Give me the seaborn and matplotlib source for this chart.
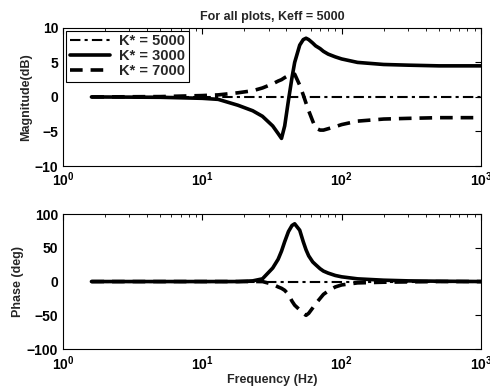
import matplotlib
matplotlib.use("Agg")
import matplotlib.pyplot as plt
import seaborn as sns
import numpy as np
import pandas as pd
from matplotlib.ticker import LogLocator, FixedLocator, NullFormatter

sns.set_theme(style="white")
plt.rcParams['font.family'] = ['Liberation Sans', 'DejaVu Sans']
plt.rcParams['mathtext.fontset'] = 'custom'
plt.rcParams['mathtext.rm'] = 'Liberation Sans:bold'
plt.rcParams['mathtext.it'] = 'Liberation Sans:bold'
plt.rcParams['mathtext.bf'] = 'Liberation Sans:bold'

freq = [1.6, 5, 10, 13, 18, 23, 27, 32, 35, 37, 39, 41.5, 44, 46, 50, 53, 55.5, 58, 62, 65, 70, 74, 80, 90, 100, 130, 200, 300, 500, 1000]

mag_5000 = [0]*len(freq)
mag_3000 = [0, -0.05, -0.2, -0.35, -1.2, -2.0, -2.8, -4.2, -5.3, -6.0, -4.2, -0.5, 2.8, 5.0, 7.5, 8.3, 8.5, 8.3, 7.8, 7.4, 7.0, 6.6, 6.2, 5.8, 5.5, 5.0, 4.7, 4.6, 4.5, 4.5]
mag_7000 = [0, 0.05, 0.2, 0.3, 0.6, 0.9, 1.3, 1.9, 2.3, 2.5, 2.8, 3.1, 3.3, 3.3, 1.7, 0.3, -0.9, -2.0, -3.5, -4.5, -4.8, -4.8, -4.6, -4.3, -4.0, -3.5, -3.2, -3.1, -3.0, -3.0]

ph_5000 = [0]*len(freq)
ph_3000 = [0, 0, 0, 0, 0, 1, 4, 20, 33, 45, 59, 74, 83, 85.5, 76, 59, 47, 38, 29, 25, 19, 15.5, 12.5, 9, 7, 4, 2, 1, 0.5, 0]
ph_7000 = [0, 0, 0, 0, 0, 0, 0, -4, -8, -10, -13, -19, -29, -35, -42, -47, -50, -47, -39, -33, -25, -19, -14, -8, -5, -2, -1, -0.5, 0, 0]

labels = ["K* = 5000", "K* = 3000", "K* = 7000"]
title = "For all plots, Keff = 5000"

styles = [dict(color='black', lw=1.5, dashes=(5, 2, 1.5, 2)),
          dict(color='black', lw=2.6, dashes=None),
          dict(color='black', lw=2.6, dashes=(3.5, 2.2))]

fig = plt.figure(figsize=(4.9, 3.87), dpi=100)
ax1 = fig.add_axes([0.1286, 0.571, 0.853, 0.357])
ax2 = fig.add_axes([0.1286, 0.098, 0.853, 0.349])

for ax, series in ((ax1, (mag_5000, mag_3000, mag_7000)), (ax2, (ph_5000, ph_3000, ph_7000))):
    for lab, vals, st in zip(labels, series, styles):
        sns.lineplot(x=freq, y=vals, ax=ax, color=st['color'], linewidth=st['lw'], label=lab)
        line = ax.get_lines()[-1]
        if st['dashes'] is not None:
            line.set_dashes(st['dashes'])
    ax.set_xscale('log')
    ax.set_xlim(1, 1000)
    ax.xaxis.set_minor_locator(LogLocator(base=10, subs=np.arange(2, 10), numticks=20))
    ax.xaxis.set_minor_formatter(NullFormatter())
    ax.tick_params(which='both', direction='in', top=True, right=True, labelsize=10, colors='black')
    ax.tick_params(which='major', length=4, width=0.8)
    ax.tick_params(which='minor', length=2, width=0.6)
    for sp in ax.spines.values():
        sp.set_color('black')
        sp.set_linewidth(0.8)

ax1.set_ylim(-10, 10)
ax1.yaxis.set_major_locator(FixedLocator([-10, -5, 0, 5, 10]))
ax2.set_ylim(-100, 100)
ax2.yaxis.set_major_locator(FixedLocator([-100, -50, 0, 50, 100]))
for ax in (ax1, ax2):
    for t in ax.get_xticklabels() + ax.get_yticklabels():
        t.set_fontweight('bold')

leg = ax1.legend(loc='upper left', frameon=True, fancybox=False, handlelength=2.8,
                 borderaxespad=0.2, labelspacing=0.05, borderpad=0.25, handletextpad=0.6,
                 prop=dict(weight='bold', size=10.5))
leg.get_frame().set_edgecolor('black')
leg.get_frame().set_linewidth(0.8)
leg.get_frame().set_alpha(1)
ax2.get_legend().remove()

ax1.set_title(title, fontsize=9, fontweight='bold', pad=6)
ax1.set_ylabel("Magnitude(dB)", fontsize=9, fontweight='bold', labelpad=2)
ax2.set_ylabel("Phase (deg)", fontsize=9, fontweight='bold', labelpad=2)
ax2.set_xlabel("Frequency (Hz)", fontsize=9, fontweight='bold', labelpad=1)

fig.savefig("out.png", dpi=100)
